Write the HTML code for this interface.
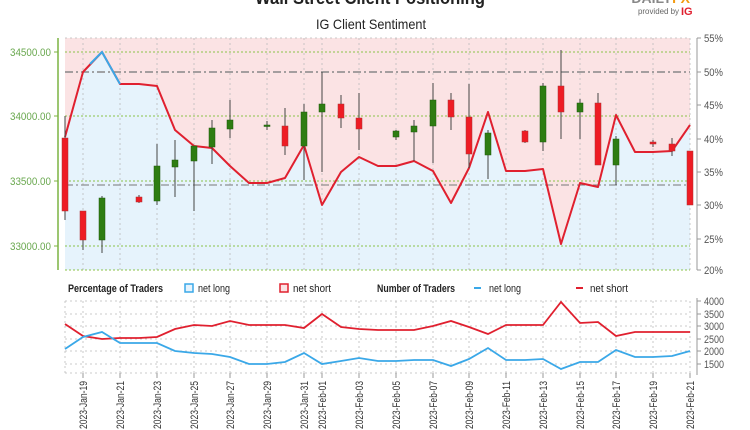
<!DOCTYPE html>
<html><head><meta charset="utf-8"><style>
body{margin:0;background:#fff;}
svg{display:block;font-family:"Liberation Sans",sans-serif;}
</style></head><body>
<svg width="750" height="430" viewBox="0 0 750 430" xmlns="http://www.w3.org/2000/svg">
<text x="255" y="4" textLength="230" lengthAdjust="spacingAndGlyphs" font-size="18" font-weight="bold" fill="#222">Wall Street Client Positioning</text>
<text x="690" y="3" text-anchor="end" font-size="14" font-weight="bold" fill="#888">DAILY<tspan fill="#f39c12">FX</tspan></text>
<text x="638" y="14" textLength="41" lengthAdjust="spacingAndGlyphs" font-size="8" fill="#666">provided by</text>
<text x="681" y="15" font-size="11" font-weight="bold" fill="#e0202f">IG</text>
<text x="316" y="29" textLength="110" lengthAdjust="spacingAndGlyphs" font-size="14" fill="#222">IG Client Sentiment</text>

<rect x="65" y="38" width="625" height="232" fill="#fbe3e4"/>
<polygon fill="#e6f3fc" points="65,137 83,72 102,52 120,84 139,84 157,86 175,130 194,146 212,148 230,166 249,183 267,183 285,178 304,145 322,205 341,172 359,157 378,166 396,166 414,161 433,171 451,203 469,168 488,112 506,171 525,171 543,169 561,244 580,183 598,187 616,115 635,152 653,152 672,151 690,125 690,270 65,270"/>
<g stroke="#bbb" stroke-width="0.8" stroke-dasharray="2,3">
<line x1="83" y1="38" x2="83" y2="270"/><line x1="120" y1="38" x2="120" y2="270"/><line x1="157" y1="38" x2="157" y2="270"/><line x1="194" y1="38" x2="194" y2="270"/><line x1="230" y1="38" x2="230" y2="270"/><line x1="267" y1="38" x2="267" y2="270"/><line x1="304" y1="38" x2="304" y2="270"/><line x1="322" y1="38" x2="322" y2="270"/><line x1="359" y1="38" x2="359" y2="270"/><line x1="396" y1="38" x2="396" y2="270"/><line x1="433" y1="38" x2="433" y2="270"/><line x1="469" y1="38" x2="469" y2="270"/><line x1="506" y1="38" x2="506" y2="270"/><line x1="543" y1="38" x2="543" y2="270"/><line x1="580" y1="38" x2="580" y2="270"/><line x1="616" y1="38" x2="616" y2="270"/><line x1="653" y1="38" x2="653" y2="270"/><line x1="690" y1="38" x2="690" y2="270"/>
<line x1="65" y1="38" x2="690" y2="38"/>
</g>
<g stroke="#8bc34a" stroke-width="1" stroke-dasharray="2,2">
<line x1="65" y1="52" x2="690" y2="52"/><line x1="65" y1="116" x2="690" y2="116"/><line x1="65" y1="181" x2="690" y2="181"/><line x1="65" y1="246" x2="690" y2="246"/><line x1="65" y1="270" x2="690" y2="270"/>
</g>
<g stroke="#888" stroke-width="1.5" stroke-dasharray="8,3,2,3">
<line x1="65" y1="72" x2="690" y2="72"/>
</g>
<g stroke="#777" stroke-width="1" stroke-dasharray="8,3,2,3">
<line x1="65" y1="185" x2="690" y2="185"/>
</g>
<polyline fill="none" stroke="#e0202f" stroke-width="2" stroke-linejoin="round" points="65,137 83,72 102,52 120,84 139,84 157,86 175,130 194,146 212,148 230,166 249,183 267,183 285,178 304,145 322,205 341,172 359,157 378,166 396,166 414,161 433,171 451,203 469,168 488,112 506,171 525,171 543,169 561,244 580,183 598,187 616,115 635,152 653,152 672,151 690,125"/>
<polyline fill="none" stroke="#3aa8e8" stroke-width="2" points="90,64 102,52 120,84"/>

<g stroke="#444" stroke-width="1">
<line x1="65" y1="116" x2="65" y2="220"/><line x1="83" y1="211" x2="83" y2="250"/><line x1="102" y1="196" x2="102" y2="253"/><line x1="139" y1="195" x2="139" y2="203"/><line x1="157" y1="144" x2="157" y2="205"/><line x1="175" y1="140" x2="175" y2="197"/><line x1="194" y1="146" x2="194" y2="211"/><line x1="212" y1="120" x2="212" y2="164"/><line x1="230" y1="100" x2="230" y2="138"/><line x1="267" y1="121" x2="267" y2="130"/><line x1="285" y1="108" x2="285" y2="155"/><line x1="304" y1="104" x2="304" y2="180"/><line x1="322" y1="72" x2="322" y2="172"/><line x1="341" y1="95" x2="341" y2="128"/><line x1="359" y1="93" x2="359" y2="150"/><line x1="396" y1="130" x2="396" y2="140"/><line x1="414" y1="120" x2="414" y2="161"/><line x1="433" y1="83" x2="433" y2="163"/><line x1="451" y1="93" x2="451" y2="130"/><line x1="469" y1="84" x2="469" y2="168"/><line x1="488" y1="130" x2="488" y2="179"/><line x1="525" y1="130" x2="525" y2="143"/><line x1="543" y1="83" x2="543" y2="151"/><line x1="561" y1="50" x2="561" y2="139"/><line x1="580" y1="99" x2="580" y2="139"/><line x1="598" y1="93" x2="598" y2="165"/><line x1="616" y1="136" x2="616" y2="185"/><line x1="653" y1="140" x2="653" y2="147"/><line x1="672" y1="138" x2="672" y2="156"/>
</g>
<g fill="#ee1c24" stroke="#a33" stroke-width="0.5">
<rect x="62" y="138" width="6" height="73"/><rect x="80" y="211" width="6" height="29"/><rect x="136" y="197" width="6" height="5"/><rect x="282" y="126" width="6" height="20"/><rect x="338" y="104" width="6" height="14"/><rect x="356" y="118" width="6" height="11"/><rect x="448" y="100" width="6" height="17"/><rect x="466" y="117" width="6" height="37"/><rect x="522" y="131" width="6" height="11"/><rect x="558" y="86" width="6" height="26"/><rect x="595" y="103" width="6" height="62"/><rect x="669" y="144" width="6" height="7"/><rect x="687" y="151" width="6" height="54"/>
<rect x="650" y="142" width="6" height="2"/>
</g>
<g fill="#2e7d12" stroke="#1d5a0a" stroke-width="0.5">
<rect x="99" y="198" width="6" height="42"/><rect x="154" y="166" width="6" height="35"/><rect x="172" y="160" width="6" height="7"/><rect x="191" y="146" width="6" height="15"/><rect x="209" y="128" width="6" height="19"/><rect x="227" y="120" width="6" height="9"/><rect x="301" y="112" width="6" height="34"/><rect x="319" y="104" width="6" height="8"/><rect x="393" y="131" width="6" height="6"/><rect x="411" y="126" width="6" height="6"/><rect x="430" y="100" width="6" height="26"/><rect x="485" y="133" width="6" height="22"/><rect x="540" y="86" width="6" height="56"/><rect x="577" y="103" width="6" height="9"/><rect x="613" y="139" width="6" height="26"/>
<rect x="264" y="125" width="6" height="1.5"/>
</g>

<line x1="58" y1="38" x2="58" y2="270" stroke="#7cb342" stroke-width="1.5"/>
<g stroke="#7cb342"><line x1="54" y1="52" x2="58" y2="52"/><line x1="54" y1="116" x2="58" y2="116"/><line x1="54" y1="181" x2="58" y2="181"/><line x1="54" y1="246" x2="58" y2="246"/></g>
<g font-size="11" fill="#6aa84f" lengthAdjust="spacingAndGlyphs">
<text x="10" y="56" textLength="41" lengthAdjust="spacingAndGlyphs">34500.00</text><text x="10" y="120" textLength="41" lengthAdjust="spacingAndGlyphs">34000.00</text><text x="10" y="185" textLength="41" lengthAdjust="spacingAndGlyphs">33500.00</text><text x="10" y="250" textLength="41" lengthAdjust="spacingAndGlyphs">33000.00</text>
</g>
<line x1="697" y1="38" x2="697" y2="270" stroke="#999" stroke-width="1"/>
<g stroke="#999"><line x1="697" y1="38" x2="701" y2="38"/><line x1="697" y1="72" x2="701" y2="72"/><line x1="697" y1="105" x2="701" y2="105"/><line x1="697" y1="139" x2="701" y2="139"/><line x1="697" y1="172" x2="701" y2="172"/><line x1="697" y1="205" x2="701" y2="205"/><line x1="697" y1="239" x2="701" y2="239"/><line x1="697" y1="270" x2="701" y2="270"/></g>
<g font-size="11" fill="#555">
<text x="704" y="42" textLength="19" lengthAdjust="spacingAndGlyphs">55%</text><text x="704" y="76" textLength="19" lengthAdjust="spacingAndGlyphs">50%</text><text x="704" y="109" textLength="19" lengthAdjust="spacingAndGlyphs">45%</text><text x="704" y="143" textLength="19" lengthAdjust="spacingAndGlyphs">40%</text><text x="704" y="176" textLength="19" lengthAdjust="spacingAndGlyphs">35%</text><text x="704" y="209" textLength="19" lengthAdjust="spacingAndGlyphs">30%</text><text x="704" y="243" textLength="19" lengthAdjust="spacingAndGlyphs">25%</text><text x="704" y="274" textLength="19" lengthAdjust="spacingAndGlyphs">20%</text>
</g>

<g font-size="11" fill="#222">
<text x="68" y="292" font-weight="bold" textLength="95" lengthAdjust="spacingAndGlyphs">Percentage of Traders</text>
<rect x="185" y="284" width="8" height="8" fill="#e6f3fc" stroke="#3aa8e8" stroke-width="1.5"/>
<text x="198" y="292" textLength="32" lengthAdjust="spacingAndGlyphs">net long</text>
<rect x="280" y="284" width="8" height="8" fill="#fbe3e4" stroke="#e0202f" stroke-width="1.5"/>
<text x="293" y="292" textLength="38" lengthAdjust="spacingAndGlyphs">net short</text>
<text x="377" y="292" font-weight="bold" textLength="78" lengthAdjust="spacingAndGlyphs">Number of Traders</text>
<line x1="474" y1="288" x2="481" y2="288" stroke="#3aa8e8" stroke-width="2"/>
<text x="489" y="292" textLength="32" lengthAdjust="spacingAndGlyphs">net long</text>
<line x1="576" y1="288" x2="583" y2="288" stroke="#e0202f" stroke-width="2"/>
<text x="590" y="292" textLength="38" lengthAdjust="spacingAndGlyphs">net short</text>
</g>

<g stroke="#bbb" stroke-width="0.8" stroke-dasharray="2,3">
<line x1="65" y1="301" x2="690" y2="301"/><line x1="65" y1="314" x2="690" y2="314"/><line x1="65" y1="326" x2="690" y2="326"/><line x1="65" y1="339" x2="690" y2="339"/><line x1="65" y1="351" x2="690" y2="351"/><line x1="65" y1="364" x2="690" y2="364"/><line x1="65" y1="373" x2="690" y2="373"/>
<line x1="65" y1="301" x2="65" y2="373"/>
<line x1="83" y1="301" x2="83" y2="373"/><line x1="120" y1="301" x2="120" y2="373"/><line x1="157" y1="301" x2="157" y2="373"/><line x1="194" y1="301" x2="194" y2="373"/><line x1="230" y1="301" x2="230" y2="373"/><line x1="267" y1="301" x2="267" y2="373"/><line x1="304" y1="301" x2="304" y2="373"/><line x1="322" y1="301" x2="322" y2="373"/><line x1="359" y1="301" x2="359" y2="373"/><line x1="396" y1="301" x2="396" y2="373"/><line x1="433" y1="301" x2="433" y2="373"/><line x1="469" y1="301" x2="469" y2="373"/><line x1="506" y1="301" x2="506" y2="373"/><line x1="543" y1="301" x2="543" y2="373"/><line x1="580" y1="301" x2="580" y2="373"/><line x1="616" y1="301" x2="616" y2="373"/><line x1="653" y1="301" x2="653" y2="373"/><line x1="690" y1="301" x2="690" y2="373"/>
</g>
<polyline fill="none" stroke="#e0202f" stroke-width="1.8" points="65,324 83,336 102,339 120,338 139,338 157,337 175,329 194,325 212,326 230,321 249,325 267,325 285,325 304,328 322,314 341,327 359,329 378,330 396,330 414,330 433,326 451,321 469,327 488,334 506,325 525,325 543,325 561,302 580,323 598,322 616,336 635,332 653,332 672,332 690,332"/>
<polyline fill="none" stroke="#3aa8e8" stroke-width="1.8" points="65,349 83,337 102,332 120,343 139,343 157,343 175,351 194,353 212,354 230,357 249,364 267,364 285,362 304,353 322,364 341,361 359,358 378,361 396,361 414,360 433,360 451,366 469,359 488,348 506,360 525,360 543,359 561,369 580,362 598,362 616,350 635,357 653,357 672,356 690,351"/>
<line x1="697" y1="298" x2="697" y2="375" stroke="#999"/>
<g stroke="#999"><line x1="697" y1="301" x2="701" y2="301"/><line x1="697" y1="314" x2="701" y2="314"/><line x1="697" y1="326" x2="701" y2="326"/><line x1="697" y1="339" x2="701" y2="339"/><line x1="697" y1="351" x2="701" y2="351"/><line x1="697" y1="364" x2="701" y2="364"/></g>
<g font-size="11" fill="#555">
<text x="704" y="305" textLength="20" lengthAdjust="spacingAndGlyphs">4000</text><text x="704" y="318" textLength="20" lengthAdjust="spacingAndGlyphs">3500</text><text x="704" y="330" textLength="20" lengthAdjust="spacingAndGlyphs">3000</text><text x="704" y="343" textLength="20" lengthAdjust="spacingAndGlyphs">2500</text><text x="704" y="355" textLength="20" lengthAdjust="spacingAndGlyphs">2000</text><text x="704" y="368" textLength="20" lengthAdjust="spacingAndGlyphs">1500</text>
</g>
<g stroke="#999"><line x1="83" y1="373" x2="83" y2="378"/><line x1="120" y1="373" x2="120" y2="378"/><line x1="157" y1="373" x2="157" y2="378"/><line x1="194" y1="373" x2="194" y2="378"/><line x1="230" y1="373" x2="230" y2="378"/><line x1="267" y1="373" x2="267" y2="378"/><line x1="304" y1="373" x2="304" y2="378"/><line x1="322" y1="373" x2="322" y2="378"/><line x1="359" y1="373" x2="359" y2="378"/><line x1="396" y1="373" x2="396" y2="378"/><line x1="433" y1="373" x2="433" y2="378"/><line x1="469" y1="373" x2="469" y2="378"/><line x1="506" y1="373" x2="506" y2="378"/><line x1="543" y1="373" x2="543" y2="378"/><line x1="580" y1="373" x2="580" y2="378"/><line x1="616" y1="373" x2="616" y2="378"/><line x1="653" y1="373" x2="653" y2="378"/><line x1="690" y1="373" x2="690" y2="378"/></g>
<g font-size="11" fill="#333" text-anchor="end">
<text transform="translate(87,381) rotate(-90)" textLength="48" lengthAdjust="spacingAndGlyphs">2023-Jan-19</text>
<text transform="translate(124,381) rotate(-90)" textLength="48" lengthAdjust="spacingAndGlyphs">2023-Jan-21</text>
<text transform="translate(161,381) rotate(-90)" textLength="48" lengthAdjust="spacingAndGlyphs">2023-Jan-23</text>
<text transform="translate(198,381) rotate(-90)" textLength="48" lengthAdjust="spacingAndGlyphs">2023-Jan-25</text>
<text transform="translate(234,381) rotate(-90)" textLength="48" lengthAdjust="spacingAndGlyphs">2023-Jan-27</text>
<text transform="translate(271,381) rotate(-90)" textLength="48" lengthAdjust="spacingAndGlyphs">2023-Jan-29</text>
<text transform="translate(308,381) rotate(-90)" textLength="48" lengthAdjust="spacingAndGlyphs">2023-Jan-31</text>
<text transform="translate(326,381) rotate(-90)" textLength="48" lengthAdjust="spacingAndGlyphs">2023-Feb-01</text>
<text transform="translate(363,381) rotate(-90)" textLength="48" lengthAdjust="spacingAndGlyphs">2023-Feb-03</text>
<text transform="translate(400,381) rotate(-90)" textLength="48" lengthAdjust="spacingAndGlyphs">2023-Feb-05</text>
<text transform="translate(437,381) rotate(-90)" textLength="48" lengthAdjust="spacingAndGlyphs">2023-Feb-07</text>
<text transform="translate(473,381) rotate(-90)" textLength="48" lengthAdjust="spacingAndGlyphs">2023-Feb-09</text>
<text transform="translate(510,381) rotate(-90)" textLength="48" lengthAdjust="spacingAndGlyphs">2023-Feb-11</text>
<text transform="translate(547,381) rotate(-90)" textLength="48" lengthAdjust="spacingAndGlyphs">2023-Feb-13</text>
<text transform="translate(584,381) rotate(-90)" textLength="48" lengthAdjust="spacingAndGlyphs">2023-Feb-15</text>
<text transform="translate(620,381) rotate(-90)" textLength="48" lengthAdjust="spacingAndGlyphs">2023-Feb-17</text>
<text transform="translate(657,381) rotate(-90)" textLength="48" lengthAdjust="spacingAndGlyphs">2023-Feb-19</text>
<text transform="translate(694,381) rotate(-90)" textLength="48" lengthAdjust="spacingAndGlyphs">2023-Feb-21</text>
</g>
</svg>
</body></html>
